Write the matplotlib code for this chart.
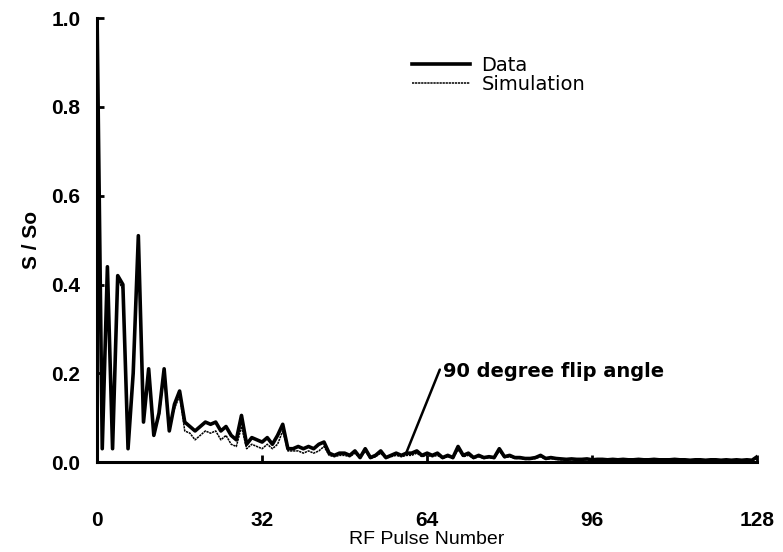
import matplotlib
matplotlib.use("Agg")
import matplotlib.pyplot as plt
import numpy as np

# ---- data ----
pulse = list(range(0, 129))

data = [1.00, 0.03, 0.44, 0.03, 0.42, 0.40, 0.03, 0.20, 0.51, 0.09,
        0.21, 0.06, 0.11, 0.21, 0.07, 0.13, 0.16, 0.09, 0.08, 0.07,
        0.08, 0.09, 0.085, 0.09, 0.07, 0.08, 0.06, 0.05, 0.105, 0.04,
        0.055, 0.05, 0.045, 0.055, 0.04, 0.06, 0.085, 0.03, 0.03, 0.035,
        0.03, 0.035, 0.03, 0.04, 0.045, 0.02, 0.015, 0.02, 0.02, 0.015,
        0.025, 0.01, 0.03, 0.01, 0.015, 0.025, 0.01, 0.015, 0.02, 0.015,
        0.02, 0.02, 0.025, 0.015, 0.02, 0.015, 0.02, 0.01, 0.015, 0.01,
        0.035, 0.015, 0.02, 0.01, 0.015, 0.01, 0.012, 0.01, 0.03, 0.012,
        0.015, 0.01, 0.01, 0.008, 0.008, 0.01, 0.015, 0.008, 0.01, 0.008,
        0.007, 0.006, 0.007, 0.006, 0.006, 0.007, 0.005, 0.006, 0.006, 0.005,
        0.006, 0.005, 0.006, 0.005, 0.005, 0.006, 0.005, 0.005, 0.006, 0.005,
        0.005, 0.005, 0.006, 0.005, 0.005, 0.004, 0.005, 0.005, 0.004, 0.005,
        0.005, 0.004, 0.005, 0.004, 0.005, 0.004, 0.005, 0.004, 0.012]

simulation = [1.00, 0.03, 0.43, 0.04, 0.41, 0.39, 0.04, 0.20, 0.50, 0.10,
              0.20, 0.07, 0.10, 0.20, 0.08, 0.12, 0.15, 0.07, 0.065, 0.05,
              0.06, 0.07, 0.065, 0.07, 0.05, 0.06, 0.04, 0.035, 0.08, 0.03,
              0.04, 0.035, 0.03, 0.04, 0.03, 0.04, 0.07, 0.025, 0.025, 0.025,
              0.02, 0.025, 0.02, 0.025, 0.035, 0.015, 0.012, 0.015, 0.015, 0.012,
              0.02, 0.008, 0.025, 0.008, 0.012, 0.02, 0.008, 0.012, 0.015, 0.012,
              0.015, 0.015, 0.02, 0.012, 0.015, 0.012, 0.015, 0.008, 0.012, 0.008,
              0.028, 0.012, 0.015, 0.008, 0.012, 0.008, 0.01, 0.008, 0.025, 0.01,
              0.012, 0.008, 0.008, 0.006, 0.006, 0.008, 0.012, 0.006, 0.008, 0.006,
              0.005, 0.005, 0.005, 0.005, 0.005, 0.005, 0.004, 0.005, 0.005, 0.004,
              0.005, 0.004, 0.005, 0.004, 0.004, 0.005, 0.004, 0.004, 0.005, 0.004,
              0.004, 0.004, 0.005, 0.004, 0.004, 0.003, 0.004, 0.004, 0.003, 0.004,
              0.004, 0.003, 0.004, 0.003, 0.004, 0.003, 0.004, 0.003, 0.008]

xticks = [0, 32, 64, 96, 128]
yticks = [0.0, 0.2, 0.4, 0.6, 0.8, 1.0]

# ---- figure ----
fig = plt.figure(figsize=(7.83, 5.52), dpi=100)
ax = fig.add_axes([0.124, 0.163, 0.843, 0.804])

ax.plot(pulse, simulation, color="black", lw=1.1, linestyle=(0, (1.5, 0.5)),
        label="Simulation", zorder=2)
ax.plot(pulse, data, color="black", lw=2.6, label="Data", zorder=3)

ax.set_xlim(0, 128)
ax.set_ylim(0, 1.0)
ax.set_xticks(xticks)
ax.set_yticks(yticks)
ax.set_yticklabels([f"{v:.1f}" for v in yticks])

for s in ["top", "right"]:
    ax.spines[s].set_visible(False)
for s in ["left", "bottom"]:
    ax.spines[s].set_linewidth(2.2)

ax.tick_params(axis="both", direction="in", length=5, width=2)
ax.tick_params(axis="x", pad=35, labelsize=15)
ax.tick_params(axis="y", pad=12, labelsize=15)
for lbl in ax.get_xticklabels() + ax.get_yticklabels():
    lbl.set_fontweight("bold")
    lbl.set_family("Liberation Sans")

ax.set_xlabel("RF Pulse Number", fontsize=14, family="Liberation Sans",
              labelpad=1)
ax.set_ylabel("S / So", fontsize=15, family="Liberation Sans",
              fontweight="bold")
ax.yaxis.set_label_coords(-0.085, 0.50)

handles, labels = ax.get_legend_handles_labels()
leg = ax.legend(handles[::-1], labels[::-1], loc="upper left",
                bbox_to_anchor=(0.45, 0.955), frameon=False,
                handlelength=3.0, handletextpad=0.6, labelspacing=0.0,
                prop={"family": "DejaVu Sans", "size": 14})

ax.annotate("90 degree flip angle", xy=(60, 0.022), xytext=(67, 0.205),
            fontsize=14, fontweight="bold", family="DejaVu Sans",
            ha="left", va="center",
            arrowprops=dict(arrowstyle="-", color="black", lw=1.8,
                            shrinkA=0, shrinkB=0,
                            relpos=(-0.01, 0.65)))

fig.savefig("out.png", dpi=100)
